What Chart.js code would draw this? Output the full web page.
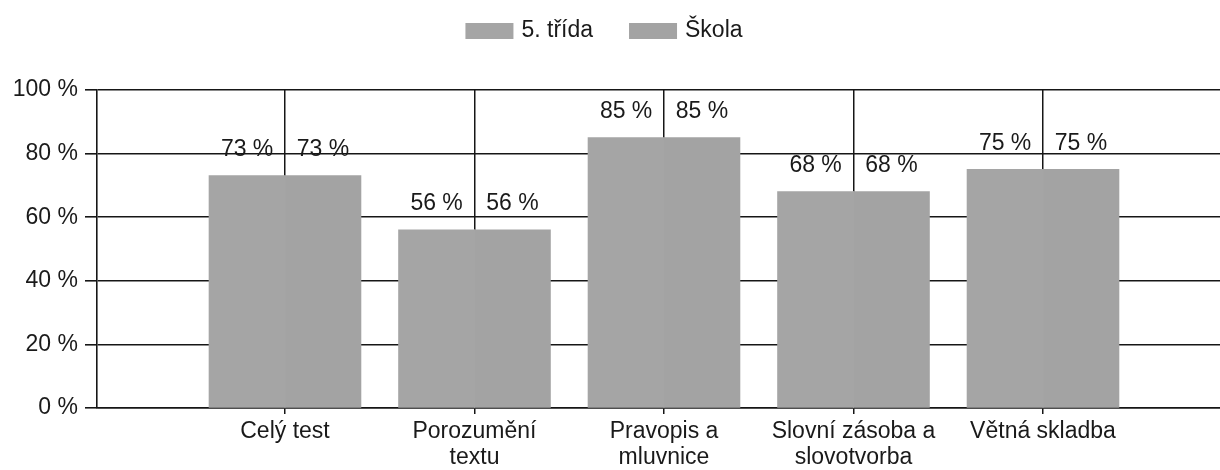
<!DOCTYPE html>
<html>
<head>
<meta charset="utf-8">
<script src="https://cdn.jsdelivr.net/npm/chart.js@4.4.1/dist/chart.umd.min.js"></script>
<style>
  html, body { margin: 0; padding: 0; background: #ffffff; }
  #wrap { width: 1220px; height: 470px; }
</style>
</head>
<body>
<div id="wrap"><canvas id="c" width="1220" height="470"></canvas></div>
<script>
const categories = [
  ["Celý test"],
  ["Porozumění", "textu"],
  ["Pravopis a", "mluvnice"],
  ["Slovní zásoba a", "slovotvorba"],
  ["Větná skladba"]
];
const seriesNames = ["5. třída", "Škola"];
const tridaValues = [73, 56, 85, 68, 75];
const skolaValues = [73, 56, 85, 68, 75];
const yTicks = [0, 20, 40, 60, 80, 100];

const FONT = "'Liberation Sans', Arial, Helvetica, sans-serif";
const TXT = "#1a1a1a";
const LINE = "#161616";
const BAR1 = "#a5a5a5";
const BAR2 = "#a3a3a3";

function toPoints(vals) { return vals.map((v, i) => ({ x: i + 1, y: v })); }

const valueLabels = {
  id: "valueLabels",
  afterDatasetsDraw(chart) {
    const ctx = chart.ctx;
    ctx.save();
    ctx.font = "23px " + FONT;
    ctx.fillStyle = TXT;
    ctx.textAlign = "center";
    ctx.textBaseline = "alphabetic";
    chart.data.datasets.forEach((ds, di) => {
      const meta = chart.getDatasetMeta(di);
      meta.data.forEach((el, i) => {
        ctx.fillText(ds.data[i].y + " %", el.x, el.y - 20);
      });
    });
    ctx.restore();
  }
};

const topLegend = {
  id: "topLegend",
  afterDraw(chart) {
    const ctx = chart.ctx;
    ctx.save();
    ctx.font = "23px " + FONT;
    const boxW = 48, boxH = 16, gapText = 8, gapItems = 36;
    const items = chart.data.datasets.map(ds => ({
      label: ds.label, color: ds.backgroundColor,
      w: boxW + gapText + ctx.measureText(ds.label).width
    }));
    const total = items.reduce((s, it) => s + it.w, 0) + gapItems * (items.length - 1);
    let x = 604 - total / 2;
    const cy = 31;
    items.forEach(it => {
      ctx.fillStyle = it.color;
      ctx.fillRect(x, cy - boxH / 2, boxW, boxH);
      ctx.fillStyle = TXT;
      ctx.textAlign = "left";
      ctx.textBaseline = "middle";
      ctx.fillText(it.label, x + boxW + gapText, cy);
      x += it.w + gapItems;
    });
    ctx.restore();
  }
};

new Chart(document.getElementById("c"), {
  type: "bar",
  data: {
    datasets: [
      { label: seriesNames[0], data: toPoints(tridaValues), backgroundColor: BAR1, borderWidth: 0, inflateAmount: 0.5 },
      { label: seriesNames[1], data: toPoints(skolaValues), backgroundColor: BAR2, borderWidth: 0, inflateAmount: 0.5 }
    ]
  },
  options: {
    responsive: false,
    animation: false,
    events: [],
    layout: { padding: { top: 90, right: 0, bottom: 0, left: 0 } },
    datasets: { bar: { categoryPercentage: 0.8, barPercentage: 1.0 } },
    plugins: {
      legend: { display: false },
      tooltip: { enabled: false },
      title: { display: false }
    },
    scales: {
      x: {
        type: "linear",
        offset: false,
        min: 0.008,
        max: 5.934,
        afterBuildTicks(scale) {
          scale.ticks = categories.map((c, i) => ({ value: i + 1 }));
        },
        afterFit(scale) { scale.height = 62; },
        grid: {
          display: true,
          offset: false,
          color: LINE,
          lineWidth: 1.5,
          drawTicks: true,
          tickLength: 6,
          drawOnChartArea: true
        },
        border: { display: true, color: LINE, width: 1.6 },
        ticks: {
          autoSkip: false,
          maxRotation: 0,
          minRotation: 0,
          padding: 4,
          color: TXT,
          font: { family: FONT, size: 23, lineHeight: 1.15 },
          callback(value) {
            const idx = Math.round(value) - 1;
            return categories[idx] || "";
          }
        }
      },
      y: {
        min: 0,
        max: 100,
        afterBuildTicks(scale) {
          scale.ticks = yTicks.map(v => ({ value: v }));
        },
        afterFit(scale) { scale.width = 97; },
        grid: {
          color: LINE,
          lineWidth: 1.6,
          drawTicks: true,
          tickLength: 12
        },
        border: { display: true, color: LINE, width: 1.6 },
        ticks: {
          padding: 7,
          color: TXT,
          font: { family: FONT, size: 23 },
          callback(value) { return value + " %"; }
        }
      }
    }
  },
  plugins: [valueLabels, topLegend]
});
</script>
</body>
</html>
